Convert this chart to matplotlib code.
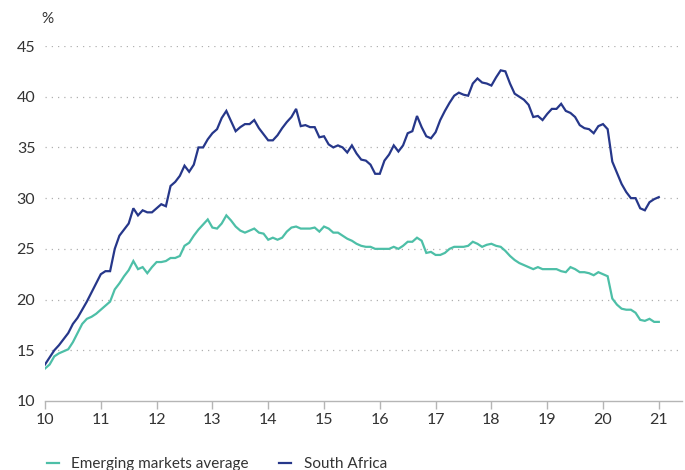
import matplotlib
matplotlib.use("Agg")
import matplotlib.pyplot as plt
import numpy as np

plt.rcParams['font.family'] = ['Lato', 'DejaVu Sans']

# Monthly observations, Jan 2010 .. Jan 2021 (x axis labels are years 2010-2021 as "10".."21")
south_africa = [
    # 2010
    13.6, 14.3, 15.0, 15.5, 16.1, 16.7, 17.6, 18.2, 19.0, 19.8, 20.7, 21.6,
    # 2011
    22.5, 22.8, 22.8, 25.0, 26.3, 26.9, 27.5, 29.0, 28.3, 28.8, 28.6, 28.6,
    # 2012
    29.0, 29.4, 29.2, 31.2, 31.6, 32.2, 33.2, 32.6, 33.3, 35.0, 35.0, 35.8,
    # 2013
    36.4, 36.8, 37.9, 38.6, 37.6, 36.6, 37.0, 37.3, 37.3, 37.7, 36.9, 36.3,
    # 2014
    35.7, 35.7, 36.2, 36.9, 37.5, 38.0, 38.8, 37.1, 37.2, 37.0, 37.0, 36.0,
    # 2015
    36.1, 35.3, 35.0, 35.2, 35.0, 34.5, 35.2, 34.4, 33.8, 33.7, 33.3, 32.4,
    # 2016
    32.4, 33.7, 34.3, 35.2, 34.6, 35.2, 36.4, 36.6, 38.1, 37.0, 36.1, 35.9,
    # 2017
    36.5, 37.7, 38.6, 39.4, 40.1, 40.4, 40.2, 40.1, 41.3, 41.8, 41.4, 41.3,
    # 2018
    41.1, 41.9, 42.6, 42.5, 41.3, 40.3, 40.0, 39.7, 39.2, 38.0, 38.1, 37.7,
    # 2019
    38.3, 38.8, 38.8, 39.3, 38.6, 38.4, 38.0, 37.2, 36.9, 36.8, 36.4, 37.1,
    # 2020
    37.3, 36.8, 33.6, 32.5, 31.4, 30.6, 30.0, 30.0, 29.0, 28.8, 29.6, 29.9,
    # 2021
    30.1,
]

emerging_markets = [
    # 2010
    13.2, 13.6, 14.4, 14.7, 14.9, 15.1, 15.8, 16.7, 17.6, 18.1, 18.3, 18.6,
    # 2011
    19.0, 19.4, 19.8, 21.0, 21.6, 22.3, 22.9, 23.8, 23.0, 23.2, 22.6, 23.2,
    # 2012
    23.7, 23.7, 23.8, 24.1, 24.1, 24.3, 25.3, 25.6, 26.3, 26.9, 27.4, 27.9,
    # 2013
    27.1, 27.0, 27.5, 28.3, 27.8, 27.2, 26.8, 26.6, 26.8, 27.0, 26.6, 26.5,
    # 2014
    25.9, 26.1, 25.9, 26.1, 26.7, 27.1, 27.2, 27.0, 27.0, 27.0, 27.1, 26.7,
    # 2015
    27.2, 27.0, 26.6, 26.6, 26.3, 26.0, 25.8, 25.5, 25.3, 25.2, 25.2, 25.0,
    # 2016
    25.0, 25.0, 25.0, 25.2, 25.0, 25.3, 25.7, 25.7, 26.1, 25.8, 24.6, 24.7,
    # 2017
    24.4, 24.4, 24.6, 25.0, 25.2, 25.2, 25.2, 25.3, 25.7, 25.5, 25.2, 25.4,
    # 2018
    25.5, 25.3, 25.2, 24.8, 24.3, 23.9, 23.6, 23.4, 23.2, 23.0, 23.2, 23.0,
    # 2019
    23.0, 23.0, 23.0, 22.8, 22.7, 23.2, 23.0, 22.7, 22.7, 22.6, 22.4, 22.7,
    # 2020
    22.5, 22.3, 20.1, 19.5, 19.1, 19.0, 19.0, 18.7, 18.0, 17.9, 18.1, 17.8,
    # 2021
    17.8,
]

start_year = 10
x_ticks = list(range(10, 22))
x_tick_labels = [str(t) for t in x_ticks]
y_ticks = [10, 15, 20, 25, 30, 35, 40, 45]
series_names = ["Emerging markets average", "South Africa"]

x = start_year + np.arange(len(south_africa)) / 12.0

W, H = 685, 470
fig = plt.figure(figsize=(W / 100, H / 100), dpi=100)
ax = fig.add_axes([45 / W, 1 - 401 / H, (682 - 45) / W, (401 - 46) / H])

c_em = "#4dbfa7"
c_sa = "#26378a"
ax.plot(x, emerging_markets, color=c_em, lw=1.6, label=series_names[0], solid_joinstyle='miter')
ax.plot(x, south_africa, color=c_sa, lw=1.6, label=series_names[1], solid_joinstyle='miter')

ax.set_xlim(10, 10 + (682 - 45) / 55.8)
ax.set_ylim(10, 45)
ax.set_xticks(x_ticks)
ax.set_xticklabels(x_tick_labels)
ax.set_yticks(y_ticks)

for s in ["top", "right", "left"]:
    ax.spines[s].set_visible(False)
ax.spines["bottom"].set_color("#b5b5b5")
ax.spines["bottom"].set_linewidth(1.0)

ax.tick_params(axis="x", length=6, width=1.0, color="#b5b5b5", labelsize=11.5,
               labelcolor="#333333", pad=3)
ax.tick_params(axis="y", length=0, labelsize=11.5, labelcolor="#333333", pad=7)

for yv in y_ticks[1:]:
    ax.axhline(yv, color="#b0b0b0", lw=0.9, ls=(0, (1, 4)), zorder=0)

fig.text(41 / W, 1 - 19 / H, "%", fontsize=11, color="#333333", ha="left", va="center")

leg = fig.legend(loc="center left", bbox_to_anchor=(33 / W, 1 - 464 / H), ncol=2,
                 frameon=False, fontsize=11, handlelength=0.8, handletextpad=0.8,
                 columnspacing=2.0, labelcolor="#333333")

fig.savefig("out.png", dpi=100)
